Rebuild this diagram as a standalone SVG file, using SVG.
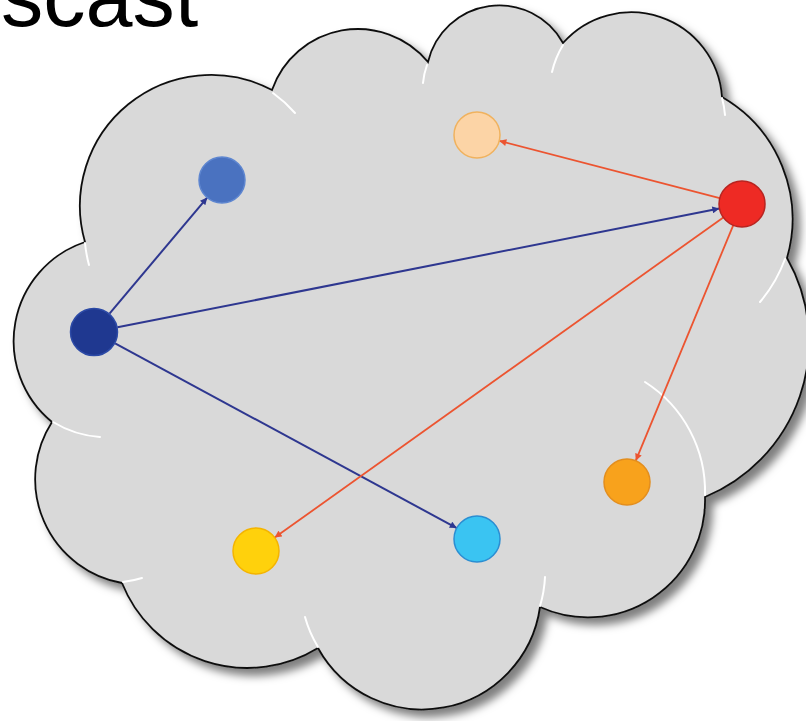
<svg xmlns="http://www.w3.org/2000/svg" width="806" height="721" viewBox="0 0 806 721">
<style>
.title{font-family:"Liberation Sans",Arial,sans-serif;font-size:84.5px;fill:#000}
.cloud{fill:#D9D9D9;stroke:#111;stroke-width:1.8}
.hl{fill:none;stroke:#fff;stroke-width:2;stroke-linecap:round}
.blue{fill:none;stroke:#2E3790;stroke-width:2}
.red{fill:none;stroke:#EC5430;stroke-width:1.8}
</style>
<defs>
<filter id="sh" x="-10%" y="-10%" width="125%" height="125%">
<feDropShadow dx="7" dy="7" stdDeviation="4" flood-color="#000" flood-opacity="0.5"/>
</filter>
<marker id="ab" viewBox="0 0 10 10" refX="10" refY="5" markerWidth="8" markerHeight="7" markerUnits="userSpaceOnUse" orient="auto"><path d="M0,0 L10,5 L0,10 Z" fill="#2E3790"/></marker>
<marker id="ar" viewBox="0 0 10 10" refX="10" refY="5" markerWidth="8" markerHeight="7" markerUnits="userSpaceOnUse" orient="auto"><path d="M0,0 L10,5 L0,10 Z" fill="#EC5430"/></marker>
</defs>
<text class="title" x="1" y="26">scast</text>
<g id="cloud">
<path class="cloud" filter="url(#sh)" d="M52,422 A104.5,104.5 0 0 1 85,242 A131,131 0 0 1 272,90 A91,91 0 0 1 428,62 A73,73 0 0 1 563,43 A91,91 0 0 1 722,97 A141,141 0 0 1 787,258 A168.5,168.5 0 0 1 705,497 A117,117 0 0 1 540,607 A119,119 0 0 1 318,648 A135,135 0 0 1 122,583 A105.5,105.5 0 0 1 52,422 Z"/>
<path class="hl" d="M273,93 A131,131 0 0 1 295,113"/>
<path class="hl" d="M427,65 A73,73 0 0 0 423,83"/>
<path class="hl" d="M563,45 A91,91 0 0 0 552,72"/>
<path class="hl" d="M722,98 A91,91 0 0 1 725,115"/>
<path class="hl" d="M785,259 A141,141 0 0 1 760,302"/>
<path class="hl" d="M645,382 A130,130 0 0 1 705,495"/>
<path class="hl" d="M540,606 A119,119 0 0 0 545,577"/>
<path class="hl" d="M318,647 A119,119 0 0 1 305,617"/>
<path class="hl" d="M123,582 A105,105 0 0 0 142,578"/>
<path class="hl" d="M53,422 A104,104 0 0 0 100,437"/>
<path class="hl" d="M85,243 A131,131 0 0 0 89,265"/>
</g>
<g id="connectors">
<line class="blue" x1="109.5" y1="313.6" x2="207.2" y2="197.6" marker-end="url(#ab)"/>
<line class="blue" x1="117.5" y1="327.3" x2="719.4" y2="208.5" marker-end="url(#ab)"/>
<line class="blue" x1="115.1" y1="343.4" x2="456.8" y2="528.1" marker-end="url(#ab)"/>
<line class="red" x1="719.7" y1="198.2" x2="499.3" y2="140.8" marker-end="url(#ar)"/>
<line class="red" x1="723.3" y1="217.4" x2="274.7" y2="537.6" marker-end="url(#ar)"/>
<line class="red" x1="733.2" y1="225.3" x2="635.8" y2="460.7" marker-end="url(#ar)"/>
</g>
<g id="node-navy"><circle cx="94" cy="332" r="23.5" fill="#1F3890" stroke="#2C4AA6" stroke-width="1.5"/></g>
<g id="node-blue"><circle cx="222" cy="180" r="23" fill="#4A72C0" stroke="#5E86D0" stroke-width="1.5"/></g>
<g id="node-peach"><circle cx="477" cy="135" r="23" fill="#FCD4A6" stroke="#F0B25E" stroke-width="1.5"/></g>
<g id="node-red"><circle cx="742" cy="204" r="23" fill="#EE2A24" stroke="#B82420" stroke-width="1.5"/></g>
<g id="node-orange"><circle cx="627" cy="482" r="23" fill="#F8A21C" stroke="#E38E1E" stroke-width="1.5"/></g>
<g id="node-yellow"><circle cx="256" cy="551" r="23" fill="#FFD10C" stroke="#F4B400" stroke-width="1.5"/></g>
<g id="node-cyan"><circle cx="477" cy="539" r="23" fill="#3AC4F2" stroke="#2B8ED2" stroke-width="1.5"/></g>
</svg>
